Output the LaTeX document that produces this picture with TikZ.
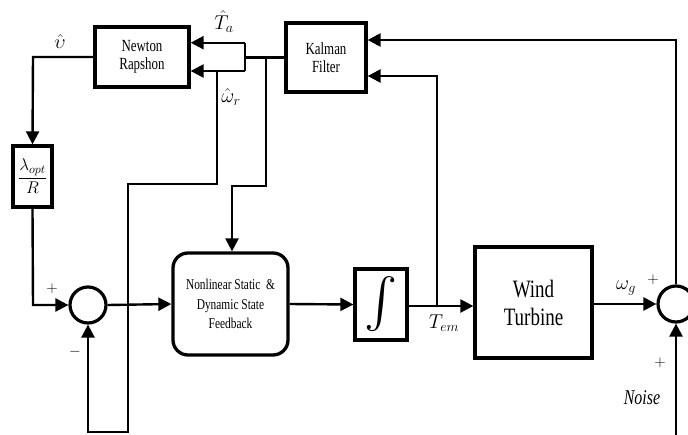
\RequirePackage{fix-cm}
\documentclass[tikz,border=0pt]{standalone}
\usepackage{fontspec}
\setmainfont[FakeStretch=0.76]{Liberation Serif}
\usetikzlibrary{arrows.meta}
\begin{document}
\begin{tikzpicture}[x=1pt,y=-1pt,
  blk/.style={draw,line width=3.3pt,inner sep=0pt,align=center},
  ln/.style={line width=2.4pt},
  arr/.style={ln,-{Triangle[length=13pt,width=13pt]}},
  sumc/.style={draw,circle,line width=3.2pt,minimum size=36pt,inner sep=0pt},
  lbl/.style={inner sep=0pt}]
\useasboundingbox (0,0) rectangle (688,434);
% blocks
\node[blk,minimum width=94pt,minimum height=60pt,font=\fontsize{17}{18}\selectfont] (nr) at (142,57) {Newton\\Rapshon};
\node[blk,minimum width=80pt,minimum height=69pt,font=\fontsize{17}{18}\selectfont] (kf) at (326,57.5) {Kalman\\Filter};
\node[blk,minimum width=39pt,minimum height=61pt,font=\fontsize{17}{20}\selectfont] (lam) at (32.5,176.5) {$\displaystyle\frac{\lambda_{opt}}{R}$};
\node[sumc] (s1) at (88,305) {};
\node[blk,rounded corners=15pt,minimum width=115pt,minimum height=102pt,font=\fontsize{15}{19.5}\selectfont] (nl) at (230.5,304) {Nonlinear Static \ \&\\Dynamic State\\Feedback};
\node[blk,minimum width=52pt,minimum height=71pt] (int) at (381,304.5) {\resizebox{!}{40pt}{$\int$}};
\node[blk,minimum width=117pt,minimum height=111pt,font=\fontsize{25}{28}\selectfont] (wt) at (533.5,302.5) {Wind\\Turbine};
\node[sumc] (s2) at (676,304) {};
% routing points
\coordinate (kj) at (245,57.5);
\coordinate (ta) at (245,42.7);
\coordinate (wr) at (245,71);
\coordinate (wd) at (217,71);
\coordinate (wd2) at (217,184);
\coordinate (wd3) at (128,184);
\coordinate (wd4) at (128,432);
\coordinate (wd5) at (88,432);
\coordinate (fj) at (266,57.5);
\coordinate (fj2) at (266,186);
\coordinate (fj3) at (232,186);
\coordinate (vl) at (33,57);
\coordinate (ls) at (33,305);
\coordinate (tj) at (437,306);
\coordinate (tk) at (437,76);
\coordinate (gk) at (676,40);
\coordinate (nb) at (676,436);
% connectors
\draw[ln] (kf.west) -- (kj);
\draw[ln] (ta) -- (wr);
\draw[arr] (ta) -- (ta -| nr.east);
\draw[arr] (wr) -- (wr -| nr.east);
\draw[arr] (wd) -- (wd2) -- (wd3) -- (wd4) -- (wd5) -- (s1.south);
\draw[arr] (fj) -- (fj2) -- (fj3) -- (fj3 |- nl.north);
\draw[arr] (nr.west) -- (vl) -- (lam.north);
\draw[arr] (lam.south) -- (ls) -- (s1.west);
\draw[arr] (s1.east) -- (nl.west);
\draw[arr] (nl.east) -- (int.west);
\draw[arr] (int.east |- tj) -- (wt.west |- tj);
\draw[arr] (tj) -- (tk) -- (tk -| kf.east);
\draw[arr] (wt.east |- s2) -- (s2.west);
\draw[arr] (s2.north) -- (gk) -- (gk -| kf.east);
\draw[arr] (nb) -- (s2.south);
% labels
\node[lbl,font=\fontsize{20}{20}\selectfont] (lv) at (60,42) {$\hat{\upsilon}$};
\node[lbl,font=\fontsize{20}{20}\selectfont] (lt) at (224,22) {$\hat{T}_a$};
\node[lbl,font=\fontsize{20}{20}\selectfont] (lw) at (231,97) {$\hat{\omega}_r$};
\node[lbl,font=\fontsize{15}{15}\selectfont] (p1) at (52,289) {$+$};
\node[lbl,font=\fontsize{15}{15}\selectfont] (m1) at (75,352) {$-$};
\node[lbl,font=\fontsize{20}{20}\selectfont] (lte) at (444,323) {$T_{em}$};
\node[lbl,font=\fontsize{20}{20}\selectfont] (lg) at (626,288) {$\omega_g$};
\node[lbl,font=\fontsize{15}{15}\selectfont] (p2) at (653,280) {$+$};
\node[lbl,font=\fontsize{15}{15}\selectfont] (p3) at (660,363) {$+$};
\node[lbl,font=\fontsize{21}{21}\selectfont] (nz) at (642,398) {\textit{Noise}};
\end{tikzpicture}
\end{document}
